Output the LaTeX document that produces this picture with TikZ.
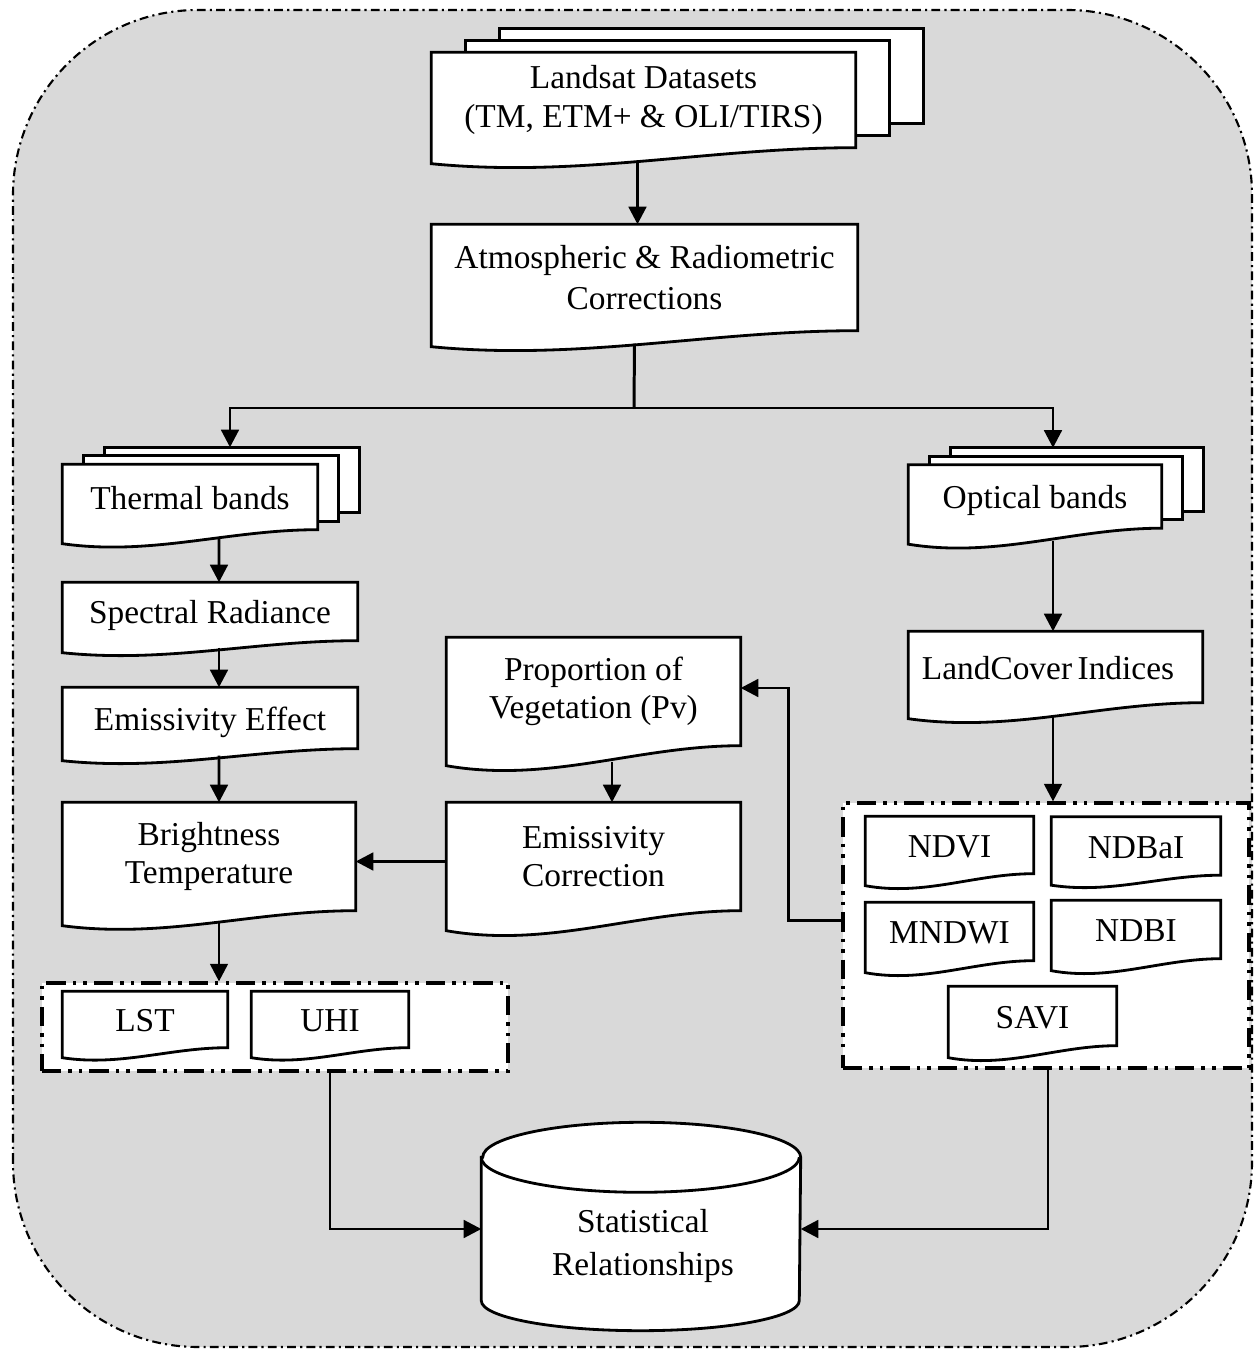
\documentclass[tikz,border=0pt]{standalone}
\usepackage{fontspec}
\setmainfont{Liberation Serif}
\usetikzlibrary{arrows.meta}
\usetikzlibrary{calc}
\usetikzlibrary{positioning}
\usetikzlibrary{backgrounds}

\tikzset{
	doc/.style={draw=none, align=center, inner sep=0pt, font=\fontsize{9.5}{11}\selectfont},
	oneline/.style={text height=7pt, text depth=0pt},
	docline/.style={draw=black, fill=white, line width=0.8pt},
	grp/.style={draw=black, fill=white, line width=0.9pt, inner sep=0pt,
		dash pattern=on 5.5pt off 2pt on 1pt off 2pt on 1pt off 2pt},
	arr/.style={line width=0.85pt, -{Triangle[length=5pt,width=5pt]}},
	line/.style={line width=0.85pt}
}

\newcommand{\docshape}[2]{%
	\filldraw[docline] (#1.north west) -- (#1.north east) -- (#1.south east)
	.. controls ($(#1.south west)!0.65!(#1.south east)$) and ($(#1.south west)!0.35!(#1.south east)+(0,-1.9*#2)$) .. ($(#1.south west)+(0,-#2)$) -- cycle;}
\newcommand{\stackshape}[3]{%
	\filldraw[docline] ($(#1.north west)+(2*#2,2*#3)$) rectangle ($(#1.south east)+(2*#2,2*#3)$);
	\filldraw[docline] ($(#1.north west)+(#2,#3)$) rectangle ($(#1.south east)+(#2,#3)$);}

\begin{document}
\begin{tikzpicture}
	\useasboundingbox (0,0) rectangle (12.54,13.5);
	\begin{pgfonlayer}{background}
	\filldraw[fill=black!15, draw=black, line width=0.6pt, rounded corners=1.85cm,
		dash pattern=on 2.5pt off 1.2pt on 0.6pt off 1.2pt] (0.13,0.03) rectangle (12.52,13.40);
	\node[grp, minimum width=4.66cm, minimum height=0.88cm] (lstgrp) at (2.75,3.23) {};
	\node[grp, minimum width=4.06cm, minimum height=2.65cm] (idxgrp) at (10.46,4.145) {};
	\end{pgfonlayer}

	\node[doc, minimum width=4.23cm, minimum height=0.94cm] (landsat) at (6.435,12.50) {Landsat Datasets\\(TM, ETM+ \& OLI/TIRS)};
	\node[doc, minimum width=4.25cm, minimum height=1.05cm, font=\fontsize{9.5}{11.7}\selectfont] (atmos) at (6.445,10.725) {Atmospheric \& Radiometric\\Corrections};
	\node[doc, oneline, minimum width=2.54cm, minimum height=0.64cm] (thermal) at (1.90,8.53) {Thermal bands};
	\node[doc, oneline, minimum width=2.52cm, minimum height=0.62cm] (optical) at (10.35,8.535) {Optical bands};
	\node[doc, oneline, minimum width=2.94cm, minimum height=0.57cm] (spectral) at (2.10,7.385) {Spectral Radiance};
	\node[doc, oneline, minimum width=2.94cm, minimum height=0.60cm] (emiseff) at (2.10,6.32) {Emissivity Effect};
	\node[doc, minimum width=2.92cm, minimum height=1.07cm] (bright) at (2.09,4.935) {Brightness\\Temperature};
	\node[doc, minimum width=2.93cm, minimum height=1.07cm] (pv) at (5.935,6.585) {Proportion of\\Vegetation (Pv)};
	\node[doc, minimum width=2.93cm, minimum height=1.07cm] (emiscor) at (5.935,4.935) {Emissivity\\Correction};
	\node[doc, oneline, minimum width=2.93cm, minimum height=0.70cm] (landcov) at (10.555,6.83) {\hspace*{-1.5mm}LandCover\,Indices};
	\node[doc, oneline, minimum width=1.64cm, minimum height=0.55cm] (lst) at (1.45,3.305) {LST};
	\node[doc, oneline, minimum width=1.56cm, minimum height=0.55cm] (uhi) at (3.30,3.305) {UHI};
	\node[doc, oneline, minimum width=1.67cm, minimum height=0.56cm] (ndvi) at (9.495,5.05) {NDVI};
	\node[doc, oneline, minimum width=1.68cm, minimum height=0.57cm] (ndbai) at (11.36,5.04) {NDBaI};
	\node[doc, oneline, minimum width=1.67cm, minimum height=0.57cm] (mndwi) at (9.495,4.185) {MNDWI};
	\node[doc, oneline, minimum width=1.68cm, minimum height=0.57cm] (ndbi) at (11.36,4.205) {NDBI};
	\node[doc, oneline, minimum width=1.67cm, minimum height=0.58cm] (savi) at (10.325,3.34) {SAVI};
	\node[draw=none, inner sep=0pt, minimum width=3.18cm, minimum height=1.42cm] (stat) at (6.41,1.21) {};
	\node[doc, font=\fontsize{9.5}{12.5}\selectfont] (stattxt) at (6.43,1.04) {Statistical\\Relationships};

	\begin{pgfonlayer}{background}
	\stackshape{landsat}{0.34}{0.12}
	\stackshape{thermal}{0.21}{0.085}
	\stackshape{optical}{0.21}{0.085}
	\foreach \n/\dep in {landsat/0.16, atmos/0.16, thermal/0.14, optical/0.16, spectral/0.12, emiseff/0.12,
		bright/0.15, pv/0.2, emiscor/0.2, landcov/0.16, lst/0.1, uhi/0.1, ndvi/0.12, ndbai/0.1,
		mndwi/0.12, ndbi/0.12, savi/0.12}
		\docshape{\n}{\dep};
	\filldraw[docline] (stat.north west) -- (stat.south west)
		arc[start angle=180, end angle=360, x radius=1.59cm, y radius=0.30cm] -- (stat.north east)
		arc[start angle=0, end angle=180, x radius=1.59cm, y radius=0.35cm] -- cycle;
	\draw[docline, fill=none] (stat.north west) arc[start angle=180, end angle=360, x radius=1.59cm, y radius=0.35cm];
	\end{pgfonlayer}

	\coordinate (split) at (6.34,9.42);
	\draw[arr] ([xshift=-0.6mm,yshift=-1.3mm]landsat.south) -- ([xshift=-0.6mm]landsat.south |- atmos.north);
	\draw[line] ([xshift=-1mm,yshift=-1.3mm]atmos.south) -- (split);
	\draw[arr] (split) -| ($(thermal.north)+(0.40,0.17)$);
	\draw[arr] (split) -| ($(optical.north)+(0.18,0.17)$);
	\draw[arr] ([xshift=2.9mm,yshift=-0.8mm]thermal.south) -- ([xshift=0.9mm]spectral.north);
	\draw[arr] ([xshift=0.9mm,yshift=-0.7mm]spectral.south) -- ([xshift=0.9mm]emiseff.north);
	\draw[arr] ([xshift=0.9mm,yshift=-0.7mm]emiseff.south) -- ([xshift=1mm]bright.north);
	\draw[arr] ([xshift=1mm,yshift=-1.2mm]bright.south) -- ([xshift=1mm]bright.south |- lstgrp.north);
	\draw[arr] ([xshift=1.85mm,yshift=-1.6mm]pv.south) -- ([xshift=1.85mm]emiscor.north);
	\draw[arr] ([yshift=-0.5mm]emiscor.west) -- ([yshift=-0.5mm]bright.east);
	\draw[arr] ([xshift=1.8mm,yshift=-1.3mm]optical.south) -- ([xshift=1.8mm]optical.south |- landcov.north);
	\draw[arr] ([xshift=-0.25mm,yshift=-1.3mm]landcov.south) -- ([xshift=-0.25mm]landcov.south |- idxgrp.north);
	\draw[arr] ([yshift=1.5mm]idxgrp.west) -- ++(-0.53,0) |- ([yshift=0.35mm]pv.east);
	\draw[arr] ([xshift=5.5mm]lstgrp.south) |- (stat.west);
	\draw[arr] ([xshift=0.2mm]idxgrp.south) |- (stat.east);
\end{tikzpicture}
\end{document}
